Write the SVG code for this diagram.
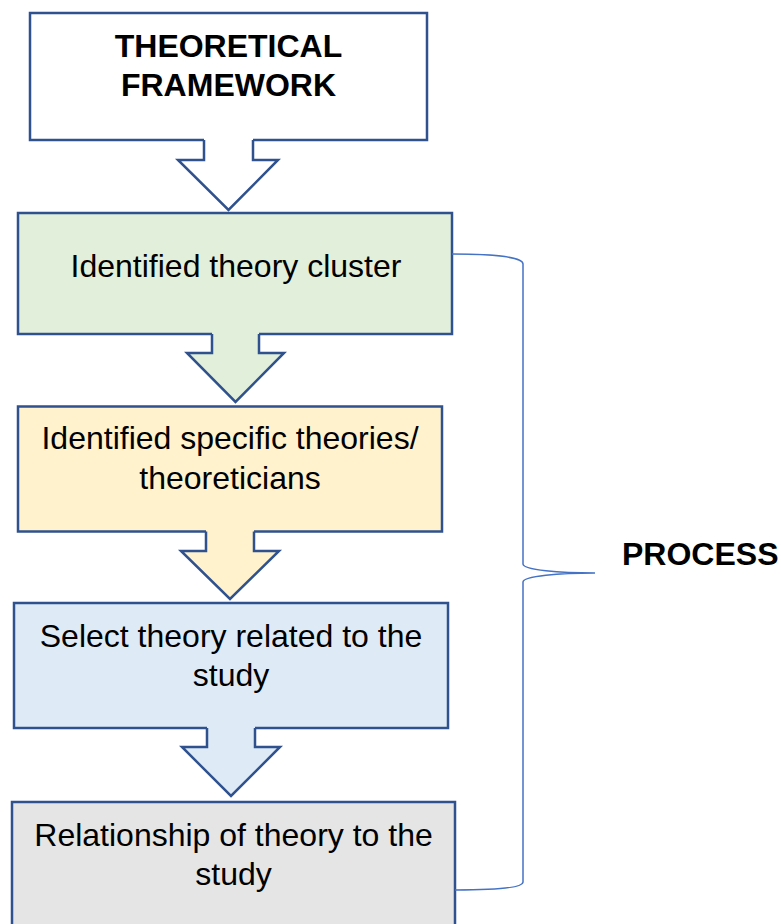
<svg xmlns="http://www.w3.org/2000/svg" width="781" height="924" viewBox="0 0 781 924">
  <style>
    .box { stroke: #2F528F; stroke-width: 2.5; }
    .outline { fill: none; stroke: #2F528F; stroke-width: 2.5; stroke-linejoin: miter; }
    .label { font-family: "Liberation Sans", Arial, sans-serif; font-size: 32px; fill: #000; text-anchor: middle; }
    .bold { font-weight: bold; }
    .start { text-anchor: start; }
    .brace { fill: none; stroke: #4472C4; stroke-width: 1.5; }
  </style>

  <rect width="781" height="924" fill="#FFFFFF"/>

  <!-- flow nodes -->
  <g id="theoretical-framework">
    <rect class="box" x="30" y="13" width="397" height="127" fill="#FFFFFF"/>
    <text class="label bold" x="228.5" y="57">THEORETICAL</text>
    <text class="label bold" x="228.5" y="96">FRAMEWORK</text>
  </g>

  <g id="theory-cluster">
    <rect class="box" x="18" y="213" width="434" height="121" fill="#E2EFDA"/>
    <text class="label" x="236" y="277">Identified theory cluster</text>
  </g>

  <g id="specific-theories">
    <rect class="box" x="18" y="406.5" width="424" height="125" fill="#FFF2CC"/>
    <text class="label" x="230" y="449">Identified specific theories/</text>
    <text class="label" x="230" y="489">theoreticians</text>
  </g>

  <g id="select-theory">
    <rect class="box" x="14" y="603" width="434" height="125" fill="#DEEBF7"/>
    <text class="label" x="231" y="647">Select theory related to the</text>
    <text class="label" x="231" y="686">study</text>
  </g>

  <g id="relationship">
    <rect class="box" x="12" y="802" width="443" height="130" fill="#E5E5E5"/>
    <text class="label" x="233.5" y="846">Relationship of theory to the</text>
    <text class="label" x="233.5" y="885">study</text>
  </g>

  <!-- block arrows between the steps, plus the process brace -->
  <g id="connectors">
    <g id="arrow-1">
      <polygon points="204,136 253,136 253,160 278,160 228.5,210 178,160 204,160" fill="#FFFFFF"/>
      <polyline class="outline" points="204,140 204,160 178,160 228.5,210 278,160 253,160 253,140"/>
    </g>
    <g id="arrow-2">
      <polygon points="212,330 259,330 259,353 284,353 235.5,402 187,353 212,353" fill="#E2EFDA"/>
      <polyline class="outline" points="212,334 212,353 187,353 235.5,402 284,353 259,353 259,334"/>
    </g>
    <g id="arrow-3">
      <polygon points="206,527 254,527 254,551 279,551 230,599 181,551 206,551" fill="#FFF2CC"/>
      <polyline class="outline" points="206,531.5 206,551 181,551 230,599 279,551 254,551 254,531.5"/>
    </g>
    <g id="arrow-4">
      <polygon points="207,724 255,724 255,747 280,747 231,796 182,747 207,747" fill="#DEEBF7"/>
      <polyline class="outline" points="207,728 207,747 182,747 231,796 280,747 255,747 255,728"/>
    </g>
    <path id="process-brace" class="brace"
          d="M452,254 C492,254 523,257 523,264 L523,564 C523,570 560,573 595,573 C560,573 523,576 523,582 L523,882 C523,888 492,890 455,890"/>
  </g>

  <g id="process-label">
    <text class="label bold start" x="622" y="565">PROCESS</text>
  </g>
</svg>
